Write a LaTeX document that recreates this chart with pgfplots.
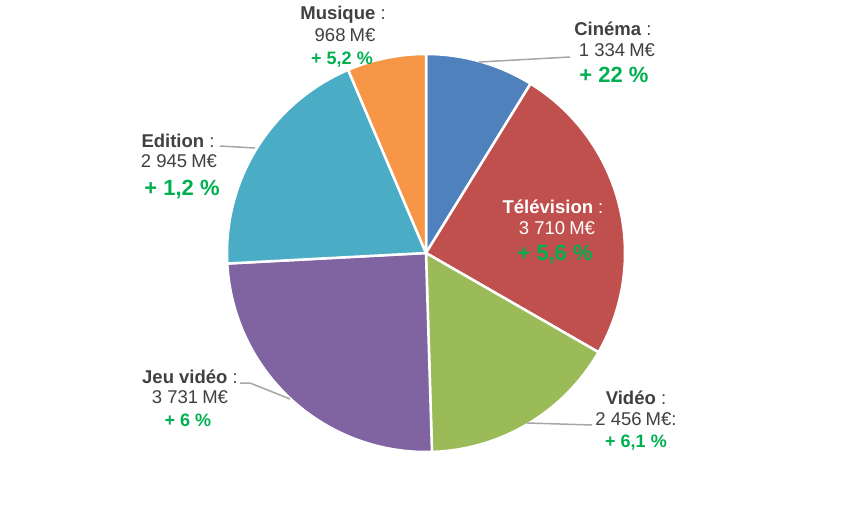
\documentclass[border=0pt]{standalone}
\usepackage{pgfplots}
\pgfplotsset{compat=1.18}
\usepackage{fontspec}
\setmainfont{Liberation Sans}
\definecolor{cCin}{HTML}{4F81BD}
\definecolor{cTel}{HTML}{C0504D}
\definecolor{cVid}{HTML}{9BBB59}
\definecolor{cJeu}{HTML}{8064A2}
\definecolor{cEdi}{HTML}{4BACC6}
\definecolor{cMus}{HTML}{F79646}
\definecolor{txt}{HTML}{404040}
\definecolor{grn}{HTML}{00B050}
\definecolor{lead}{HTML}{A6A6A6}
% data (M EUR)
\def\vCin{1334}\def\vTel{3710}\def\vVid{2456}\def\vJeu{3731}\def\vEdi{2945}\def\vMus{968}
\pgfmathsetmacro\tot{\vCin+\vTel+\vVid+\vJeu+\vEdi+\vMus}
\pgfmathsetmacro\aA{90}
\pgfmathsetmacro\aB{\aA-360*(\vCin/\tot)}
\pgfmathsetmacro\aC{\aB-360*(\vTel/\tot)}
\pgfmathsetmacro\aD{\aC-360*(\vVid/\tot)}
\pgfmathsetmacro\aE{\aD-360*(\vJeu/\tot)}
\pgfmathsetmacro\aF{\aE-360*(\vEdi/\tot)}
\pgfmathsetmacro\aG{-270}
\newcommand\nm{\fontsize{18.5}{20}\selectfont}
\newcommand\pb{\fontsize{22}{24}\selectfont\bfseries}
\newcommand\ps{\fontsize{18}{20}\selectfont\bfseries}
\newcommand\sep{\hspace{0.22em}}
\begin{document}
\begin{tikzpicture}
\useasboundingbox (-426pt,-253pt) rectangle (424pt,253pt);
\begin{axis}[hide axis, scale only axis, width=396pt, height=396pt,
  xmin=-198, xmax=198, ymin=-198, ymax=198, clip=false,
  at={(0,0)}, anchor=origin]
\pgfplotsset{every axis plot/.append style={draw=white, line width=2.5pt, line join=round, samples=80, no marks}}
\addplot[fill=cCin, domain=\aB:\aA] ({199*cos(x)},{199*sin(x)}) -- (0,0) -- cycle;
\addplot[fill=cTel, domain=\aC:\aB] ({199*cos(x)},{199*sin(x)}) -- (0,0) -- cycle;
\addplot[fill=cVid, domain=\aD:\aC] ({199*cos(x)},{199*sin(x)}) -- (0,0) -- cycle;
\addplot[fill=cJeu, domain=\aE:\aD] ({199*cos(x)},{199*sin(x)}) -- (0,0) -- cycle;
\addplot[fill=cEdi, domain=\aF:\aE] ({199*cos(x)},{199*sin(x)}) -- (0,0) -- cycle;
\addplot[fill=cMus, domain=\aG:\aF] ({199*cos(x)},{199*sin(x)}) -- (0,0) -- cycle;
% leader lines
\addplot[draw=lead, line width=1.5pt] coordinates {(53,191) (144,196)};
\addplot[draw=lead, line width=1.5pt] coordinates {(-206,107) (-171,105)};
\addplot[draw=lead, line width=1.5pt] coordinates {(-186,-130) (-176,-130) (-136,-146)};
\addplot[draw=lead, line width=1.5pt] coordinates {(101,-170) (166,-172)};
% labels
\begin{scope}[every node/.style={anchor=base, inner sep=0pt, text=txt}]
\node[font=\nm] at (axis cs:-83,233) {\textbf{Musique} :};
\node[font=\nm] at (axis cs:-81,211) {968\sep M€};
\node[font=\ps, text=grn] at (axis cs:-84,188) {+ 5,2 \%};
\node[font=\nm] at (axis cs:187,217) {\textbf{Cinéma} :};
\node[font=\nm] at (axis cs:191,196) {1 334\sep M€};
\node[font=\pb, text=grn] at (axis cs:188,170) {+ 22 \%};
\node[font=\nm, text=white] at (axis cs:127,40) {\textbf{Télévision} :};
\node[font=\nm, text=white] at (axis cs:131,19) {3 710\sep M€};
\node[font=\pb, text=grn] at (axis cs:129,-7) {+ 5,6 \%};
\node[font=\nm] at (axis cs:-248,105) {\textbf{Edition} :};
\node[font=\nm] at (axis cs:-247,85) {2 945\sep M€};
\node[font=\pb, text=grn] at (axis cs:-244,58) {+ 1,2 \%};
\node[font=\nm] at (axis cs:-236,-130) {\textbf{Jeu vidéo} :};
\node[font=\nm] at (axis cs:-236,-150) {3 731\sep M€};
\node[font=\ps, text=grn] at (axis cs:-238,-173) {+ 6 \%};
\node[font=\nm] at (axis cs:210,-151) {\textbf{Vidéo} :};
\node[font=\nm] at (axis cs:210,-172) {2 456\sep M€:};
\node[font=\ps, text=grn] at (axis cs:210,-194) {+ 6,1 \%};
\end{scope}
\end{axis}
\end{tikzpicture}
\end{document}
